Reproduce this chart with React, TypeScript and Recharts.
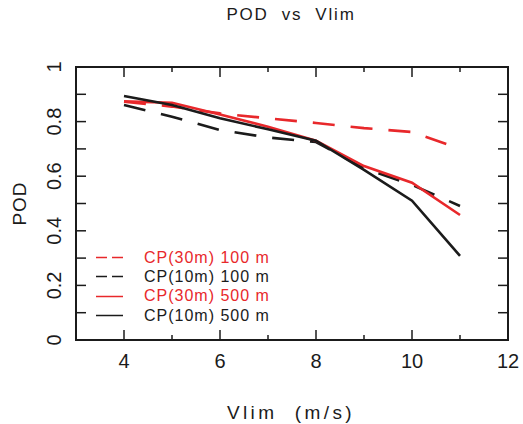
import { LineChart, Line, XAxis, YAxis } from 'recharts'

// POD vs Vlim

const vlim = [4, 5, 6, 7, 8, 9, 10, 11]
const cp30m100 = [0.873, 0.855, 0.83, 0.812, 0.795, 0.776, 0.762, 0.7]
const cp10m100 = [0.861, 0.818, 0.769, 0.742, 0.725, 0.629, 0.568, 0.491]
const cp30m500 = [0.874, 0.869, 0.826, 0.781, 0.73, 0.637, 0.576, 0.458]
const cp10m500 = [0.894, 0.861, 0.812, 0.772, 0.73, 0.623, 0.51, 0.308]

const xTicks = [3, 4, 5, 6, 7, 8, 9, 10, 11, 12]
const xLabels = ['4', '6', '8', '10', '12']
const yTicks = [0, 0.1, 0.2, 0.3, 0.4, 0.5, 0.6, 0.7, 0.8, 0.9, 1]
const yLabels = ['0', '0.2', '0.4', '0.6', '0.8', '1']

const RED = '#e8282b'
const BLACK = '#1b1b1b'
const FONT = '"Liberation Sans", Arial, sans-serif'

// plot box (pixels) – shared by the chart margins and the frame overlay
const W = 523
const H = 424
const BOX = { left: 76, top: 67, right: 508, bottom: 340 }
const X_DOMAIN = [3, 12]
const Y_DOMAIN = [0, 1]

const series = [
  { key: 'cp30m100', name: 'CP(30m) 100 m', color: RED, dashed: true },
  { key: 'cp10m100', name: 'CP(10m) 100 m', color: BLACK, dashed: true },
  { key: 'cp30m500', name: 'CP(30m) 500 m', color: RED, dashed: false },
  { key: 'cp10m500', name: 'CP(10m) 500 m', color: BLACK, dashed: false },
]

const data = vlim.map((v, i) => ({
  vlim: v,
  cp30m100: cp30m100[i],
  cp10m100: cp10m100[i],
  cp30m500: cp30m500[i],
  cp10m500: cp10m500[i],
}))

const fmt = (v: number) => String(Math.round(v * 10) / 10)

// tickSize=0, tickMargin=0 -> (x, y) is on the axis line
const BottomTick = ({ x, y, payload }: any) => {
  const label = fmt(payload.value)
  if (!xLabels.includes(label)) return <g />
  return (
    <text x={x} y={y + 28} textAnchor="middle" fontSize={20} fontFamily={FONT} fill={BLACK}>
      {label}
    </text>
  )
}

const LeftTick = ({ x, y, payload }: any) => {
  const label = fmt(payload.value)
  if (!yLabels.includes(label)) return <g />
  return (
    <text
      x={x - 15}
      y={y}
      textAnchor="middle"
      fontSize={20}
      fontFamily={FONT}
      fill={BLACK}
      transform={`rotate(-90, ${x - 15}, ${y})`}
    >
      {label}
    </text>
  )
}

// box frame with inward ticks on all four sides
const Frame = () => {
  const bw = BOX.right - BOX.left
  const bh = BOX.bottom - BOX.top
  const px = (v: number) => BOX.left + ((v - X_DOMAIN[0]) / (X_DOMAIN[1] - X_DOMAIN[0])) * bw
  const py = (v: number) => BOX.bottom - ((v - Y_DOMAIN[0]) / (Y_DOMAIN[1] - Y_DOMAIN[0])) * bh
  return (
    <svg width={W} height={H} style={{ position: 'absolute', left: 0, top: 0, pointerEvents: 'none' }}>
      <rect x={BOX.left} y={BOX.top} width={bw} height={bh} fill="none" stroke={BLACK} strokeWidth={2} />
      {xTicks.map((t) => {
        const len = xLabels.includes(fmt(t)) ? 10 : 5
        return (
          <g key={'x' + t}>
            <line x1={px(t)} y1={BOX.bottom} x2={px(t)} y2={BOX.bottom - len} stroke={BLACK} strokeWidth={1.5} />
            <line x1={px(t)} y1={BOX.top} x2={px(t)} y2={BOX.top + len} stroke={BLACK} strokeWidth={1.5} />
          </g>
        )
      })}
      {yTicks.map((t) => (
        <g key={'y' + t}>
          <line x1={BOX.left} y1={py(t)} x2={BOX.left + 10} y2={py(t)} stroke={BLACK} strokeWidth={1.5} />
          <line x1={BOX.right} y1={py(t)} x2={BOX.right - 10} y2={py(t)} stroke={BLACK} strokeWidth={1.5} />
        </g>
      ))}
    </svg>
  )
}

const textBase = {
  position: 'absolute' as const,
  fontFamily: FONT,
  color: BLACK,
  whiteSpace: 'pre' as const,
  textAlign: 'center' as const,
}

export default function App() {
  return (
    <div style={{ position: 'absolute', left: 0, top: 0, width: W, height: H, background: '#fff' }}>
      <LineChart
        width={W}
        height={H}
        data={data}
        margin={{ top: BOX.top, right: W - BOX.right, bottom: 0, left: 0 }}
      >
        <XAxis
          dataKey="vlim"
          type="number"
          domain={X_DOMAIN}
          ticks={xTicks}
          interval={0}
          height={H - BOX.bottom}
          tickSize={0}
          tickMargin={0}
          tickLine={false}
          axisLine={false}
          tick={<BottomTick />}
        />
        <YAxis
          type="number"
          domain={Y_DOMAIN}
          ticks={yTicks}
          interval={0}
          width={BOX.left}
          tickSize={0}
          tickMargin={0}
          tickLine={false}
          axisLine={false}
          tick={<LeftTick />}
        />
        {series.map((s) => (
          <Line
            key={s.key}
            dataKey={s.key}
            name={s.name}
            type="linear"
            stroke={s.color}
            strokeWidth={2.6}
            strokeDasharray={s.dashed ? '22 16' : undefined}
            dot={false}
            isAnimationActive={false}
          />
        ))}
      </LineChart>
      <Frame />
      <div style={{ position: 'absolute', left: 96, top: 248, fontFamily: FONT, fontSize: 16, letterSpacing: 1 }}>
        {series.map((s) => (
          <div key={s.key} style={{ height: 19.3, display: 'flex', alignItems: 'center', color: s.color, whiteSpace: 'pre' }}>
            <svg width={48} height={19}>
              <line
                x1={0}
                y1={9.5}
                x2={27}
                y2={9.5}
                stroke={s.color}
                strokeWidth={1.5}
                strokeDasharray={s.dashed ? '11 5' : undefined}
              />
            </svg>
            <span>{s.name}</span>
          </div>
        ))}
      </div>
      <div style={{ ...textBase, left: 191, top: 5.6, width: 200, fontSize: 17, lineHeight: '17px', letterSpacing: 1.8 }}>
        {'POD  vs  Vlim'}
      </div>
      <div style={{ ...textBase, left: 191, top: 403, width: 200, fontSize: 19, lineHeight: '19px', letterSpacing: 3.4 }}>
        {'Vlim  (m/s)'}
      </div>
      <div
        style={{
          ...textBase,
          left: 19.4 - 50,
          top: 203 - 9.5,
          width: 100,
          fontSize: 19,
          lineHeight: '19px',
          letterSpacing: 1,
          transform: 'rotate(-90deg)',
        }}
      >
        POD
      </div>
    </div>
  )
}
